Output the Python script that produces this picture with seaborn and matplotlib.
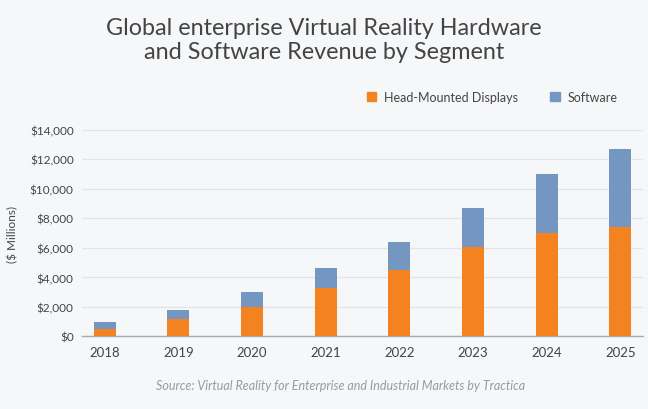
import pandas as pd
import matplotlib.pyplot as plt
import seaborn as sns
from matplotlib.patches import Patch
from matplotlib.ticker import FuncFormatter

# values ($ millions)
years = ["2018", "2019", "2020", "2021", "2022", "2023", "2024", "2025"]
hmd = [500, 1150, 2000, 3300, 4500, 6030, 7000, 7410]
software = [500, 650, 1000, 1350, 1870, 2640, 4020, 5310]

BG = "#f6f7f9"
ORANGE = "#f58220"
BLUE = "#7397c1"
TEXT = "#444444"

sns.set_theme(style="white")
plt.rcParams["font.family"] = ["Lato", "DejaVu Sans"]

df = pd.DataFrame({"year": years, "hmd": hmd, "software": software})
df["total"] = df["hmd"] + df["software"]

fig = plt.figure(figsize=(6.48, 4.10), dpi=100, facecolor=BG)
ax = fig.add_axes([0.1265, 0.177, 0.866, 0.504])
ax.set_facecolor(BG)

# stacked: draw totals in blue, then HMD in orange over them
sns.barplot(data=df, x="year", y="total", color=BLUE, width=0.3,
            saturation=1, linewidth=0, ax=ax, zorder=3)
sns.barplot(data=df, x="year", y="hmd", color=ORANGE, width=0.3,
            saturation=1, linewidth=0, ax=ax, zorder=3)

ax.set_ylim(0, 14000)
ax.set_xlim(-0.31, 7.31)
ax.set_yticks(range(0, 14001, 2000))
ax.yaxis.set_major_formatter(FuncFormatter(lambda v, _: f"${v:,.0f}"))
ax.grid(axis="y", color="#e2e4e8", linewidth=0.9, zorder=0)
ax.set_axisbelow(True)
for s in ["top", "right", "left"]:
    ax.spines[s].set_visible(False)
ax.spines["bottom"].set_color("#a9abae")
ax.spines["bottom"].set_linewidth(1.0)
ax.tick_params(axis="both", length=0, colors=TEXT)
ax.tick_params(axis="x", pad=7, labelsize=9.5)
ax.tick_params(axis="y", pad=6, labelsize=8.5)
ax.set_xlabel("")
ax.set_ylabel("($ Millions)", fontsize=8.5, color=TEXT)
ax.yaxis.set_label_coords(-0.114, 0.5)

fig.text(0.5, 0.957, "Global enterprise Virtual Reality Hardware\nand Software Revenue by Segment",
         ha="center", va="top", fontsize=16.8, color=TEXT, linespacing=1.22)

handles = [Patch(color=ORANGE, label="Head-Mounted Displays"),
           Patch(color=BLUE, label="Software")]
fig.legend(handles=handles, loc="center right", bbox_to_anchor=(0.97, 0.762),
           ncol=2, frameon=False, fontsize=9, handlelength=0.75, handleheight=0.75,
           handletextpad=0.6, columnspacing=2.6, labelcolor=TEXT)

fig.text(0.525, 0.058, "Source: Virtual Reality for Enterprise and Industrial Markets by Tractica",
         ha="center", va="center", fontsize=9, color="#9a9a9a", style="italic")

fig.savefig("out.png", dpi=100, facecolor=BG)
